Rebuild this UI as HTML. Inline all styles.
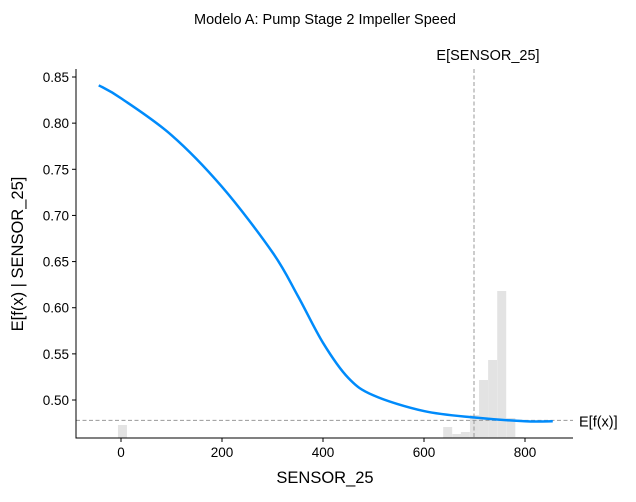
<!DOCTYPE html>
<html><head><meta charset="utf-8"><style>
body{margin:0;background:#fff;}
svg text{font-family:"Liberation Sans","DejaVu Sans",sans-serif;}
</style></head><body>
<svg id="chart" width="636" height="497" xmlns="http://www.w3.org/2000/svg">
<text x="325" y="24" font-size="14.5" text-anchor="middle">Modelo A: Pump Stage 2 Impeller Speed</text>
<g id="hist"></g>
<g id="grid"></g>
<g id="line"></g>
<g id="axes"></g>
</svg>
<script>
const xs = [-44, 0, 100, 200, 300, 350, 400, 450, 500, 600, 700, 800, 855];
const ys = [0.841, 0.827, 0.787, 0.731, 0.660, 0.613, 0.562, 0.524, 0.505, 0.488, 0.481, 0.477, 0.477];
const binStarts = [-6, 638, 656, 673, 691, 709, 727, 745, 763, 780];
const binCounts = [13, 11, 4, 6, 23, 58, 78, 147, 20, 1];
const binWidth = 17.8;
const xTicks = [0, 200, 400, 600, 800];
const yTicks = [0.50, 0.55, 0.60, 0.65, 0.70, 0.75, 0.80, 0.85];
const expectedX = 699;
const expectedY = 0.478;

const L=76,R=573,T=69,B=438;
const X=v=>121+(v)*0.505;
const Y=v=>77+(0.85-v)*922.9;
const H=c=>c*1.0;
const NS="http://www.w3.org/2000/svg";
function mk(tag,attrs,parent){const e=document.createElementNS(NS,tag);for(const k in attrs)e.setAttribute(k,attrs[k]);parent.appendChild(e);return e;}
const hist=document.getElementById('hist');
binStarts.forEach((s,i)=>{
  const r=mk('rect',{x:X(s),y:B-H(binCounts[i]),width:X(s+binWidth)-X(s),height:H(binCounts[i]),fill:'#e3e3e3'},hist);
  
  
});
const grid=document.getElementById('grid');
const hl=mk('line',{x1:L,x2:R,y1:Y(expectedY),y2:Y(expectedY),stroke:'#999',"stroke-dasharray":"4,2.5","stroke-width":1},grid);


const vl=mk('line',{x1:X(expectedX),x2:X(expectedX),y1:T,y2:B,stroke:'#999',"stroke-dasharray":"4,2.5","stroke-width":1},grid);


const t1=mk('text',{x:X(expectedX)+14,y:60,"font-size":14.5,"text-anchor":"middle"},grid);t1.textContent='E[SENSOR_25]';


const t2=mk('text',{x:579,y:Y(expectedY)+6,"font-size":14.5},grid);t2.textContent='E[f(x)]';


// smooth curve via Catmull-Rom
const pts=xs.map((x,i)=>[X(x),Y(ys[i])]);
let d=`M${pts[0][0]},${pts[0][1]}`;
for(let i=0;i<pts.length-1;i++){const p0=pts[i-1]||pts[i],p1=pts[i],p2=pts[i+1],p3=pts[i+2]||p2;
d+=` C${p1[0]+(p2[0]-p0[0])/6},${p1[1]+(p2[1]-p0[1])/6} ${p2[0]-(p3[0]-p1[0])/6},${p2[1]-(p3[1]-p1[1])/6} ${p2[0]},${p2[1]}`;}
const path=mk('path',{d:d,fill:'none',stroke:'#008bfb','stroke-width':2.5},document.getElementById('line'));


const ax=document.getElementById('axes');
mk('line',{x1:L,x2:L,y1:T,y2:B+0.5,stroke:'#000'},ax);
mk('line',{x1:L,x2:R,y1:B,y2:B,stroke:'#000'},ax);
xTicks.forEach(v=>{mk('line',{x1:X(v),x2:X(v),y1:B,y2:B+4,stroke:'#000'},ax);
 const t=mk('text',{x:X(v),y:B+19,"font-size":13.5,"text-anchor":"middle"},ax);t.textContent=v;
 
 });
yTicks.forEach(v=>{mk('line',{x1:L-4,x2:L,y1:Y(v),y2:Y(v),stroke:'#000'},ax);
 const t=mk('text',{x:L-7,y:Y(v)+5,"font-size":13.5,"text-anchor":"end"},ax);t.textContent=v.toFixed(2);
 
 });
const xt=mk('text',{x:325,y:483,"font-size":16.5,"text-anchor":"middle"},ax);xt.textContent='SENSOR_25';


const yt=mk('text',{x:0,y:0,"font-size":16.5,"text-anchor":"middle",transform:"translate(23,254) rotate(-90)"},ax);yt.textContent='E[f(x) | SENSOR_25]';


</script>
</body></html>
